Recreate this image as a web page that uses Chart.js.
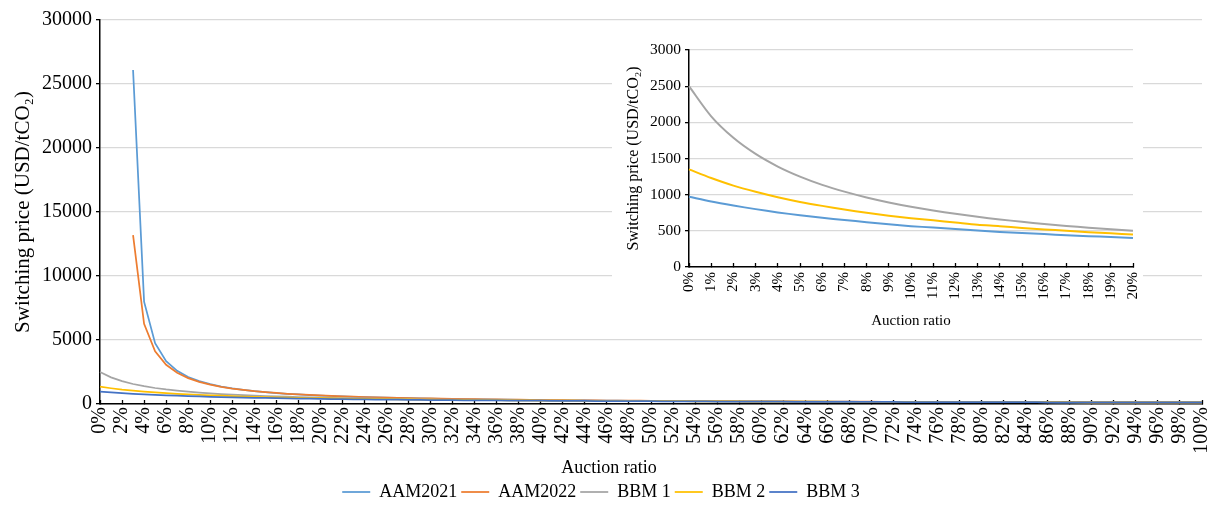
<!DOCTYPE html>
<html><head><meta charset="utf-8">
<script src="https://cdn.jsdelivr.net/npm/chart.js@4.4.1/dist/chart.umd.min.js"></script>
<style>
html,body{margin:0;padding:0;background:#fff;}
#wrap{position:relative;width:1208px;height:511px;overflow:hidden;}
#main{position:absolute;left:0;top:0;}
#insetBox{position:absolute;left:612px;top:25px;width:531px;height:305px;background:#fff;}
#inset{position:absolute;left:0;top:0;}
</style></head><body>
<div id="wrap">
<canvas id="main" width="1208" height="511"></canvas>
<div id="insetBox"><canvas id="inset" width="531" height="305"></canvas></div>
</div>
<script>
const CATEGORIES = [
 "0%","1%","2%","3%","4%","5%","6%","7%","8%","9%",
 "10%","11%","12%","13%","14%","15%","16%","17%","18%","19%",
 "20%","21%","22%","23%","24%","25%","26%","27%","28%","29%",
 "30%","31%","32%","33%","34%","35%","36%","37%","38%","39%",
 "40%","41%","42%","43%","44%","45%","46%","47%","48%","49%",
 "50%","51%","52%","53%","54%","55%","56%","57%","58%","59%",
 "60%","61%","62%","63%","64%","65%","66%","67%","68%","69%",
 "70%","71%","72%","73%","74%","75%","76%","77%","78%","79%",
 "80%","81%","82%","83%","84%","85%","86%","87%","88%","89%",
 "90%","91%","92%","93%","94%","95%","96%","97%","98%","99%",
 "100%"];

const AAM2021 = [
 null,null,null,26100,8000,4750,3340,2590,2110,1790,
 1550,1360,1220,1100,1005,925,855,795,745,700,
 660,625,590,565,535,510,490,470,450,435,
 420,405,390,380,365,355,345,335,325,315,
 307,300,292,285,278,271,265,259,253,248,
 242,237,233,228,224,219,215,211,207,204,
 200,197,193,190,187,184,181,178,176,173,
 171,168,166,163,161,159,157,154,152,150,
 149,147,145,143,141,139,138,136,135,133,
 132,130,129,127,126,124,123,122,120,119,
 118];

const AAM2022 = [
 null,null,null,13200,6260,4110,3060,2440,2020,1730,
 1510,1340,1210,1100,1000,925,860,800,750,705,
 670,630,600,570,545,520,500,480,460,445,
 430,415,400,387,375,363,353,343,333,324,
 315,307,300,292,285,279,272,266,261,255,
 250,245,240,235,230,226,222,218,214,210,
 207,203,200,196,193,190,187,184,181,179,
 176,174,171,169,166,164,162,160,158,156,
 154,152,150,148,146,144,143,141,139,138,
 136,135,133,132,130,129,127,126,125,123,
 122];

const BBM1 = [
 2500,2083,1786,1563,1389,1250,1136,1042,962,893,
 833,781,735,694,658,625,595,568,543,521,
 500,480,465,445,430,415,405,390,380,370,
 355,345,340,330,320,315,305,300,290,285,
 280,270,265,260,255,250,245,240,235,230,
 225,225,220,215,210,210,205,200,200,195,
 190,190,185,185,180,180,175,175,170,170,
 165,165,160,160,160,155,155,150,150,150,
 145,145,145,140,140,140,135,135,135,135,
 130,130,130,130,125,125,125,125,120,120,
 120];

const BBM2 = [
 1350,1230,1125,1040,965,900,845,795,750,710,
 675,645,615,585,565,540,520,500,480,465,
 450,435,420,410,395,385,375,365,355,345,
 340,330,320,315,305,300,295,285,280,275,
 270,265,260,255,250,245,240,235,235,230,
 225,220,220,215,210,210,205,200,200,195,
 195,190,190,185,180,180,180,175,175,170,
 170,165,165,165,160,160,155,155,155,150,
 150,150,145,145,145,140,140,140,140,135,
 135,135,130,130,130,130,125,125,125,125,
 125];

const BBM3 = [
 970,905,850,800,755,715,680,650,620,590,
 565,545,525,505,485,470,455,440,425,415,
 400,390,380,370,360,350,340,335,325,315,
 310,305,295,290,285,280,275,265,260,255,
 255,250,245,240,235,230,225,225,220,215,
 215,210,205,205,200,200,195,190,190,185,
 185,180,180,175,175,175,170,170,165,165,
 160,160,160,155,155,155,150,150,150,145,
 145,145,140,140,140,140,135,135,135,135,
 130,130,130,130,125,125,125,125,120,120,
 120];

const SERIES_NAMES = ["AAM2021","AAM2022","BBM 1","BBM 2","BBM 3"];
const Y_TITLE = "Switching price (USD/tCO\u2082)";
const X_TITLE = "Auction ratio";
const INSET_COUNT = 21; // 0% .. 20%

const FONT = '"Liberation Serif", "Times New Roman", serif';
const COLORS = {aam21:'#5B9BD5', aam22:'#ED7D31', bbm1:'#A5A5A5', bbm2:'#FFC000', bbm3:'#4472C4'};

function ds(label, data, color, order, width, tension){
  return {label, data, borderColor: color, backgroundColor: color, borderWidth: width,
          pointRadius: 0, pointHoverRadius: 0, tension: tension, fill: false, order: order, spanGaps: false};
}

const xTitlePlugin = {
  id: 'xTitleCanvas',
  afterDraw(chart) {
    const xs = chart.scales.x;
    const ctx = chart.ctx;
    ctx.save();
    ctx.font = '18px ' + FONT;
    ctx.fillStyle = '#000';
    ctx.textAlign = 'center';
    ctx.textBaseline = 'middle';
    ctx.fillText(X_TITLE, chart.width / 2 + 5, xs.bottom - 11);
    ctx.restore();
  }
};

new Chart(document.getElementById('main'), {
  type: 'line',
  data: {
    labels: CATEGORIES,
    datasets: [
      ds(SERIES_NAMES[0], AAM2021, COLORS.aam21, 5, 1.75, 0),
      ds(SERIES_NAMES[1], AAM2022, COLORS.aam22, 4, 1.75, 0),
      ds(SERIES_NAMES[2], BBM1, COLORS.bbm1, 3, 1.75, 0),
      ds(SERIES_NAMES[3], BBM2, COLORS.bbm2, 2, 1.75, 0),
      ds(SERIES_NAMES[4], BBM3, COLORS.bbm3, 1, 1.75, 0)
    ]
  },
  plugins: [xTitlePlugin],
  options: {
    responsive: false,
    animation: false,
    layout: {padding: {top: 20, right: 6, left: 0, bottom: 0}},
    plugins: {
      legend: {
        position: 'bottom', fullSize: true,
        labels: {
          usePointStyle: true, pointStyle: 'line', pointStyleWidth: 28, padding: 4,
          color: '#000', font: {family: FONT, size: 18},
          sort: (a, b) => a.datasetIndex - b.datasetIndex
        }
      },
      tooltip: {enabled: false}
    },
    scales: {
      x: {
        type: 'category', offset: false,
        grid: {display: true, drawOnChartArea: false, drawTicks: true, tickLength: -4, tickColor: '#000', tickWidth: 1.3},
        border: {display: true, color: '#000', width: 1.5},
        ticks: {
          autoSkip: false, minRotation: 90, maxRotation: 90, padding: 7, color: '#000',
          font: {family: FONT, size: 20},
          callback: (v, i) => (i % 2 === 0 ? CATEGORIES[i] : null)
        },
        afterFit: (s) => { s.height = 75; s.paddingLeft = 0; s.paddingRight = 0; }
      },
      y: {
        min: 0, max: 30000,
        ticks: {stepSize: 5000, padding: 4, color: '#000', font: {family: FONT, size: 20}, callback: (v) => String(v)},
        grid: {color: '#d9d9d9', lineWidth: 1.3, tickLength: 4, tickColor: '#000'},
        border: {display: true, color: '#000', width: 1.5},
        title: {display: true, text: Y_TITLE, color: '#000', font: {family: FONT, size: 21}, padding: {top: 11, bottom: 0}},
        afterFit: (s) => { s.width = 100; }
      }
    }
  }
});

new Chart(document.getElementById('inset'), {
  type: 'line',
  data: {
    labels: CATEGORIES.slice(0, INSET_COUNT),
    datasets: [
      ds(SERIES_NAMES[2], BBM1.slice(0, INSET_COUNT), COLORS.bbm1, 1, 2, 0.3),
      ds(SERIES_NAMES[3], BBM2.slice(0, INSET_COUNT), COLORS.bbm2, 2, 2, 0.3),
      ds(SERIES_NAMES[4], BBM3.slice(0, INSET_COUNT), COLORS.aam21, 3, 2, 0.3)
    ]
  },
  options: {
    responsive: false,
    animation: false,
    layout: {padding: {top: 25, right: 10, left: 0, bottom: 0}},
    plugins: {legend: {display: false}, tooltip: {enabled: false}},
    scales: {
      x: {
        type: 'category', offset: false,
        grid: {display: true, drawOnChartArea: false, drawTicks: true, tickLength: -4, tickColor: '#000', tickWidth: 1.3},
        border: {display: true, color: '#000', width: 1.5},
        ticks: {autoSkip: false, minRotation: 90, maxRotation: 90, padding: 9, color: '#000', font: {family: FONT, size: 15}},
        title: {display: true, text: X_TITLE, color: '#000', font: {family: FONT, size: 15}, padding: {top: 0, bottom: 0}},
        afterFit: (s) => { s.height = 63; s.paddingLeft = 0; s.paddingRight = 0; }
      },
      y: {
        min: 0, max: 3000,
        ticks: {stepSize: 500, padding: 4, color: '#000', font: {family: FONT, size: 15.5}, callback: (v) => String(v)},
        grid: {color: '#d9d9d9', lineWidth: 1.3, tickLength: 4, tickColor: '#000'},
        border: {display: true, color: '#000', width: 1.5},
        title: {display: true, text: Y_TITLE, color: '#000', font: {family: FONT, size: 16}, padding: {top: 12, bottom: 0}},
        afterFit: (s) => { s.width = 77; }
      }
    }
  }
});
</script>
</body></html>
